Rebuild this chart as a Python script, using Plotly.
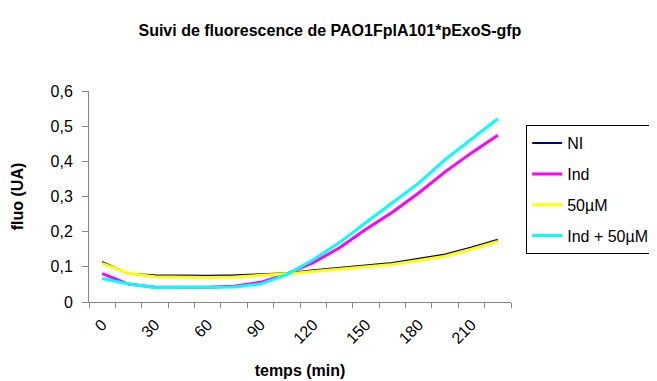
import plotly.graph_objects as go

# ── Données ────────────────────────────────────────────────────────────────
temps = [0, 15, 30, 45, 60, 75, 90, 105, 120, 135, 150, 165, 180, 195, 210, 225]
labels_x = [0, 30, 60, 90, 120, 150, 180, 210]

ni = [0.114, 0.080, 0.076, 0.075, 0.075, 0.076, 0.080, 0.082, 0.090, 0.097,
      0.103, 0.111, 0.123, 0.135, 0.155, 0.177]
ind = [0.081, 0.051, 0.042, 0.042, 0.042, 0.045, 0.056, 0.080, 0.112, 0.154,
       0.207, 0.255, 0.310, 0.370, 0.424, 0.474]
uM50 = [0.110, 0.081, 0.072, 0.070, 0.070, 0.071, 0.075, 0.080, 0.087, 0.093,
        0.100, 0.107, 0.118, 0.130, 0.150, 0.172]
ind_uM50 = [0.067, 0.051, 0.041, 0.041, 0.041, 0.043, 0.051, 0.078, 0.120, 0.169,
            0.226, 0.283, 0.338, 0.405, 0.464, 0.521]

series = [
    ("NI", ni, "#000080", 2),
    ("Ind", ind, "#ff00ff", 3),
    ("50µM", uM50, "#ffff00", 3),
    ("Ind + 50µM", ind_uM50, "#00ffff", 3),
]

# ── Figure ─────────────────────────────────────────────────────────────────
fig = go.Figure()
for nom, vals, coul, w in series:
    fig.add_trace(go.Scatter(
        x=temps, y=vals, mode="lines", name=nom, legendgroup=nom,
        line=dict(color=coul, width=w),
    ))

axe = "#868686"
fig.update_layout(
    width=657, height=381,
    margin=dict(l=81, r=154, t=83, b=87, autoexpand=False),
    paper_bgcolor="white", plot_bgcolor="white",
    font=dict(family="Arial, Liberation Sans, sans-serif", color="black", size=16),
    separators=", ",
    title=dict(
        text="<b>Suivi de fluorescence de PAO1FplA101*pExoS-gfp</b>",
        x=0.49, xanchor="center", y=0.94, yanchor="middle",
        font=dict(size=16),
    ),
    showlegend=True,
    legend=dict(
        x=1.036, y=0.838, xanchor="left", yanchor="top",
        bordercolor="black", borderwidth=1,
        font=dict(size=16), tracegroupgap=7,
        traceorder="grouped",
    ),
    xaxis=dict(
        range=[-7.5, 232.5], tickvals=labels_x, tickangle=-45,
        ticks="outside", ticklen=6, tickcolor="rgba(0,0,0,0)",
        showgrid=False, zeroline=False, automargin=False,
        showline=True, linecolor=axe, linewidth=1,
        minor=dict(tick0=-7.5, dtick=15, ticks="outside", ticklen=5,
                   tickcolor=axe, showgrid=False),
        title=dict(text="<b>temps (min)</b>", font=dict(size=16), standoff=18),
    ),
    yaxis=dict(
        range=[0, 0.6], dtick=0.1, ticklabelstandoff=6,
        ticks="outside", ticklen=6, tickcolor=axe,
        showgrid=False, zeroline=False, automargin=False,
        showline=True, linecolor=axe, linewidth=1,
        title=dict(text="<b>fluo (UA)</b>", font=dict(size=16), standoff=22),
    ),
)

fig.write_html("out.html")
